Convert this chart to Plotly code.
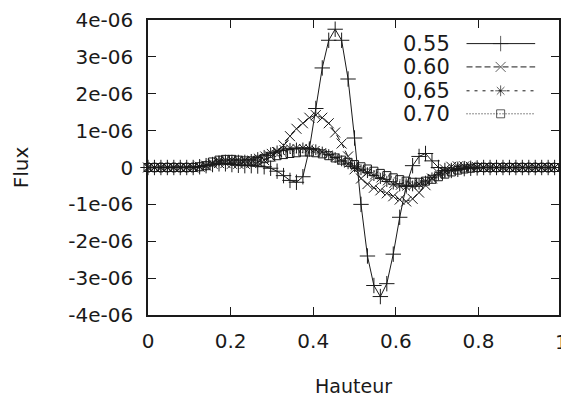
import plotly.graph_objects as go

# x grid (Hauteur)
hauteur = [i / 64 for i in range(65)]

# Flux values in units of 1e-6
flux_055 = [0, 0, 0, 0, 0, 0, 0, 0, 0.02,
            0.05, 0.08, 0.1, 0.1, 0.08, 0.06, 0.05, 0.05, 0.04, 0.02, -0.02,
            -0.1, -0.22, -0.35, -0.4, -0.25, 0.5, 1.6, 2.7, 3.45, 3.75,
            3.45, 2.4, 0.8, -1.0, -2.4, -3.2, -3.5, -3.15, -2.35, -1.35,
            -0.5, 0.05, 0.3, 0.38, 0.18, 0.0, -0.08, -0.08, -0.05, -0.03,
            -0.02, -0.01, 0, 0, 0, 0, 0, 0, 0, 0, 0, 0, 0, 0, 0]
flux_060 = [0, 0, 0, 0, 0, 0, 0, 0, 0.02,
            0.05, 0.1, 0.12, 0.12, 0.1, 0.1, 0.1, 0.12, 0.15, 0.2, 0.3,
            0.42, 0.6, 0.85, 1.05, 1.2, 1.35, 1.42, 1.35, 1.2, 0.95,
            0.65, 0.3, -0.05, -0.3, -0.45, -0.55, -0.62, -0.7, -0.78, -0.87,
            -0.92, -0.85, -0.68, -0.48, -0.3, -0.15, -0.05, 0.02, 0.03, 0.03,
            0.02, 0.01, 0, 0, 0, 0, 0, 0, 0, 0, 0, 0, 0, 0, 0]
flux_065 = [0, 0, 0, 0, 0, 0, 0, 0, 0.02,
            0.05, 0.12, 0.18, 0.2, 0.2, 0.2, 0.2, 0.22, 0.27, 0.33, 0.4,
            0.45, 0.5, 0.52, 0.53, 0.53, 0.52, 0.48, 0.42, 0.35, 0.27,
            0.18, 0.1, 0.02, -0.06, -0.14, -0.22, -0.3, -0.38, -0.45, -0.5,
            -0.52, -0.5, -0.45, -0.37, -0.28, -0.2, -0.12, -0.07, -0.03, -0.01,
            0, 0, 0, 0, 0, 0, 0, 0, 0, 0, 0, 0, 0, 0, 0]
flux_070 = [0, 0, 0, 0, 0, 0, 0, 0, 0.02,
            0.05, 0.15, 0.2, 0.22, 0.22, 0.2, 0.18, 0.18, 0.2, 0.24, 0.28,
            0.32, 0.35, 0.38, 0.4, 0.42, 0.42, 0.4, 0.37, 0.32, 0.26,
            0.2, 0.14, 0.08, 0.02, -0.04, -0.1, -0.16, -0.22, -0.28, -0.33,
            -0.37, -0.4, -0.4, -0.37, -0.32, -0.25, -0.18, -0.12, -0.07, -0.04,
            -0.02, 0, 0, 0, 0, 0, 0, 0, 0, 0, 0, 0, 0, 0, 0]

labels = ["0.55", "0.60", "0,65", "0.70"]
series = [flux_055, flux_060, flux_065, flux_070]
symbols = ["cross-thin-open", "x-thin-open", "asterisk-open", "square-open"]
sizes = [11, 10, 9, 8]
dashes = ["solid", "6px,3px", "3px,5px", "1px,2px"]

y_tickvals = [-4e-6, -3e-6, -2e-6, -1e-6, 0, 1e-6, 2e-6, 3e-6, 4e-6]
y_ticktext = ["-4e-06", "-3e-06", "-2e-06", "-1e-06", "0", "1e-06", "2e-06", "3e-06", "4e-06"]
x_tickvals = [0, 0.2, 0.4, 0.6, 0.8, 1]
x_ticktext = ["0", "0.2", "0.4", "0.6", "0.8", "1"]

INK = "#1a1a1a"
FONT = "DejaVu Sans"

fig = go.Figure()
for lab, vals, sym, sz, dsh in zip(labels, series, symbols, sizes, dashes):
    fig.add_trace(go.Scatter(
        x=hauteur, y=[v * 1e-6 for v in vals], mode="lines+markers", name=lab,
        line=dict(color=INK, width=1, dash=dsh),
        marker=dict(symbol=sym, size=sz, color=INK, line=dict(color=INK, width=1)),
        cliponaxis=False, showlegend=False))

# Gnuplot-style key: label on the left, sample on the right
row_y = [0.920, 0.841, 0.760, 0.682]
for lab, sym, sz, dsh, ry in zip(labels, symbols, sizes, dashes, row_y):
    fig.add_trace(go.Scatter(
        x=[0.775, 0.858, 0.942], y=[ry] * 3, xaxis="x2", yaxis="y2",
        mode="lines+markers", line=dict(color=INK, width=1, dash=dsh),
        marker=dict(symbol=sym, size=[0, sz, 0], color=INK, line=dict(color=INK, width=1)),
        showlegend=False, hoverinfo="skip"))
    fig.add_annotation(x=0.7385, y=ry, xref="paper", yref="paper", text=lab,
                       showarrow=False, xanchor="right", yanchor="middle",
                       font=dict(family=FONT, size=21, color=INK))

# partially visible "1" tick label at right edge
fig.add_annotation(x=1.005, y=0, xref="paper", yref="paper", text="1",
                   showarrow=False, xanchor="center", yanchor="top", yshift=-13,
                   font=dict(family=FONT, size=20, color=INK))

fig.update_layout(
    width=561, height=397,
    margin=dict(l=148, r=0, t=20, b=82),
    paper_bgcolor="white", plot_bgcolor="white",
    font=dict(family=FONT, size=20, color=INK),
    xaxis=dict(range=[0, 0.995], tickvals=x_tickvals, ticktext=x_ticktext,
               ticks="inside", ticklen=8, tickwidth=1.2, tickcolor=INK,
               showline=True, linecolor=INK, linewidth=1.5, mirror="ticks",
               showgrid=False, zeroline=False, ticklabelstandoff=7,
               title=dict(text="Hauteur", font=dict(family=FONT, size=19, color=INK), standoff=28)),
    yaxis=dict(range=[-4e-6, 4e-6], tickvals=y_tickvals, ticktext=y_ticktext,
               ticks="inside", ticklen=8, tickwidth=1.2, tickcolor=INK,
               showline=True, linecolor=INK, linewidth=1.5, mirror="ticks",
               showgrid=False, zeroline=False, ticklabelstandoff=9,
               title=dict(text="Flux", font=dict(family=FONT, size=20, color=INK), standoff=34)),
    xaxis2=dict(overlaying="x", range=[0, 1], visible=False, anchor="y2"),
    yaxis2=dict(overlaying="y", range=[0, 1], visible=False, anchor="x2"),
)

fig.write_html("out.html")
